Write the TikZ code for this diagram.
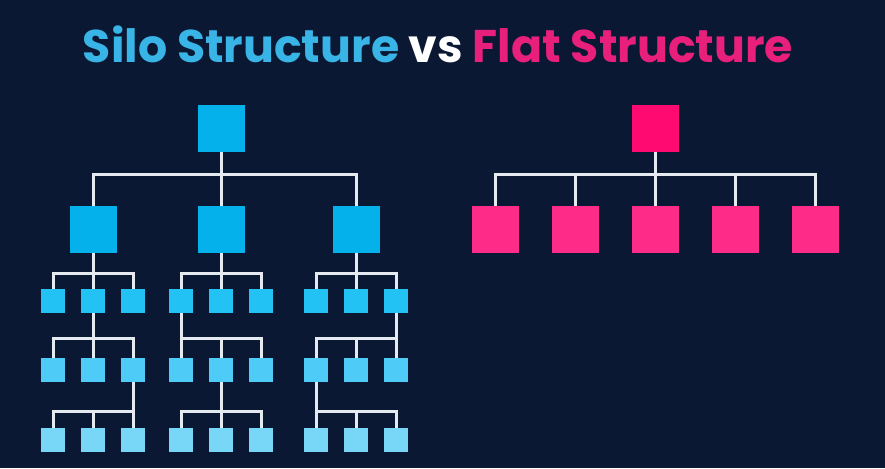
\documentclass[tikz,border=0pt]{standalone}
\usepackage{fontspec}
\usepackage{tikz}
\newfontfamily\titlefont{Poppins}
\definecolor{bg}{HTML}{0B1834}
\definecolor{blueA}{HTML}{05B1EA}
\definecolor{blueB}{HTML}{22C2F5}
\definecolor{blueC}{HTML}{4ECCF7}
\definecolor{blueD}{HTML}{78D6F6}
\definecolor{pinkA}{HTML}{FE0A70}
\definecolor{pinkB}{HTML}{FE2C88}
\definecolor{titleblue}{HTML}{38B5E6}
\definecolor{titlepink}{HTML}{E8207C}
\definecolor{wirecol}{HTML}{E4EAF0}
\begin{document}
\begin{tikzpicture}[x=1pt,y=1pt,
  box/.style = {rectangle, inner sep=0pt, outer sep=0pt},
  big/.style = {box, minimum size=47pt},
  small/.style = {box, minimum size=24pt},
  wire/.style = {draw=wirecol, line width=3pt},
  node distance={40pt}]
\fill[bg] (0,0) rectangle (885,468);
\useasboundingbox (0,0) rectangle (885,468);
% title
\node[anchor=base, font=\titlefont\bfseries\fontsize{45.8}{50}\selectfont] (title) at (438,405)
  {\textcolor{titleblue}{Silo Structure} \textcolor{white}{vs} \textcolor{titlepink}{Flat Structure}};
% silo structure
\node[big, fill=blueA] (s0) at (221,339) {};
\foreach \g/\x/\p/\q in {1/93/b/f, 2/221/a/e, 3/356/c/d} {
  \node[big, fill=blueA] (s\g) at (\x,238.5) {};
  \node[small, fill=blueB] (s\g-b) at (\x,167) {};
  \node[small, fill=blueB] (s\g-a) [left of=s\g-b] {};
  \node[small, fill=blueB] (s\g-c) [right of=s\g-b] {};
  \node[small, fill=blueC] (s\g-e) at (\x,98) {};
  \node[small, fill=blueC] (s\g-d) [left of=s\g-e] {};
  \node[small, fill=blueC] (s\g-f) [right of=s\g-e] {};
  \node[small, fill=blueD] (s\g-h) at (\x,28) {};
  \node[small, fill=blueD] (s\g-g) [left of=s\g-h] {};
  \node[small, fill=blueD] (s\g-i) [right of=s\g-h] {};
  \draw[wire] (s0.south) -- ++(0,-22.5) -| (s\g.north);
  \foreach \c in {a,b,c} \draw[wire] (s\g.south) -- ++(0,-21) -| (s\g-\c.north);
  \foreach \c in {d,e,f} \draw[wire] (s\g-\p.south) -- ++(0,-26) -| (s\g-\c.north);
  \foreach \c in {g,h,i} \draw[wire] (s\g-\q.south) -- ++(0,-30) -| (s\g-\c.north);
}
% flat structure
\node[big, fill=pinkA] (f0) at (655,339) {};
\node[big, fill=pinkB] (f3) at (655,238.5) {};
\node[big, fill=pinkB] (f2) [left of=f3, node distance=80pt] {};
\node[big, fill=pinkB] (f1) [left of=f2, node distance=80pt] {};
\node[big, fill=pinkB] (f4) [right of=f3, node distance=80pt] {};
\node[big, fill=pinkB] (f5) [right of=f4, node distance=80pt] {};
\foreach \c in {1,...,5} \draw[wire] (f0.south) -- ++(0,-22.5) -| (f\c.north);
\end{tikzpicture}
\end{document}
